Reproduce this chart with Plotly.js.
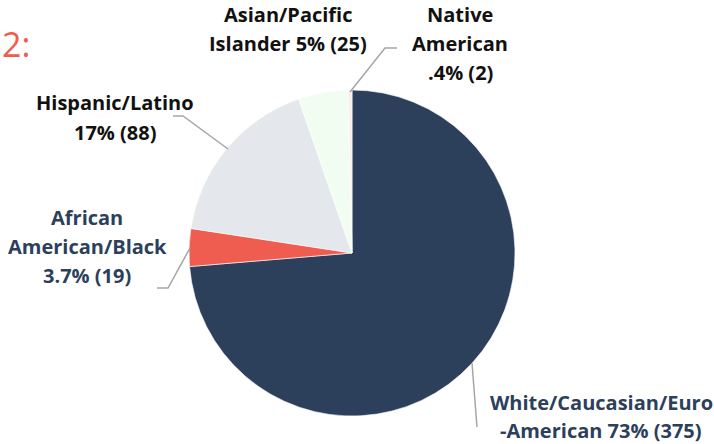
<!DOCTYPE html>
<html>
<head>
<meta charset="utf-8">
<script src="https://cdn.plot.ly/plotly-3.0.1.min.js"></script>
<style>html,body{margin:0;padding:0;background:#fff;}#chart{width:714px;height:444px;}</style>
</head>
<body>
<div id="chart"></div>
<script>
// Data (clockwise from 12 o'clock)
const categories = ["White/Caucasian/Euro-American", "African American/Black", "Hispanic/Latino", "Asian/Pacific Islander", "Native American"];
const counts = [375, 19, 88, 25, 2];
const percentLabels = ["73%", "3.7%", "17%", "5%", ".4%"];
const labelLines = [
  ["White/Caucasian/Euro", "-American 73% (375)"],
  ["African", "American/Black", "3.7% (19)"],
  ["Hispanic/Latino", "17% (88)"],
  ["Asian/Pacific", "Islander 5% (25)"],
  ["Native", "American", ".4% (2)"]
];
const sliceColors = ["#2C3F5B", "#EF5C50", "#E4E7EB", "#F2FDF2", "#FBEEEA"];
const labelColors = ["#2C3F5B", "#2C3F5B", "#111111", "#111111", "#111111"];

const W = 714, H = 444;
const px = x => x / W;
const py = y => 1 - y / H;

const trace = {
  type: "pie",
  labels: categories,
  values: counts,
  sort: false,
  direction: "clockwise",
  rotation: 0,
  textinfo: "none",
  hoverinfo: "label+value+percent",
  marker: { colors: sliceColors, line: { color: "#ffffff", width: 0.6 } },
  domain: { x: [px(189), px(515)], y: [py(416), py(90)] },
  showlegend: false
};

// label layout: center x and first-line center y (pixels), line step
const labelX = [601, 87, 115, 288, 460];
const labelY0 = [402, 217, 103, 14, 14];
const lineSteps = [28, 29, 29, 29, 29];
const annotations = [];
labelLines.forEach((lines, i) => {
  lines.forEach((t, j) => {
    annotations.push({
      text: "<b>" + t + "</b>",
      x: px(labelX[i]), y: py(labelY0[i] + j * lineSteps[i]),
      xref: "paper", yref: "paper", showarrow: false,
      xanchor: "center", yanchor: "middle", align: "center",
      font: { family: "'Open Sans', sans-serif", size: 20, color: labelColors[i] }
    });
  });
});
annotations.push({
  text: "2:", x: px(0), y: py(44), xref: "paper", yref: "paper", showarrow: false,
  xanchor: "left", yanchor: "middle",
  font: { family: "'Open Sans', sans-serif", size: 34, color: "#EF5C50" }
});

// leader lines (pixel paths)
const leaders = [
  [[472, 363], [477, 427]],
  [[157, 288], [168, 288], [190, 248]],
  [[173, 116], [183, 116], [228, 149]],
  [[350, 92], [385, 48], [397, 48]]
];
const shapes = leaders.map(pts => ({
  type: "path", xref: "paper", yref: "paper",
  path: pts.map((p, i) => (i ? "L" : "M") + px(p[0]) + "," + py(p[1])).join(" "),
  line: { color: "#A6A6A6", width: 1.5 }
}));

const layout = {
  width: W, height: H,
  margin: { l: 0, r: 0, t: 0, b: 0 },
  paper_bgcolor: "#ffffff",
  annotations: annotations,
  shapes: shapes
};
Plotly.newPlot("chart", [trace], layout, { displayModeBar: false, staticPlot: true });
</script>
</body>
</html>
